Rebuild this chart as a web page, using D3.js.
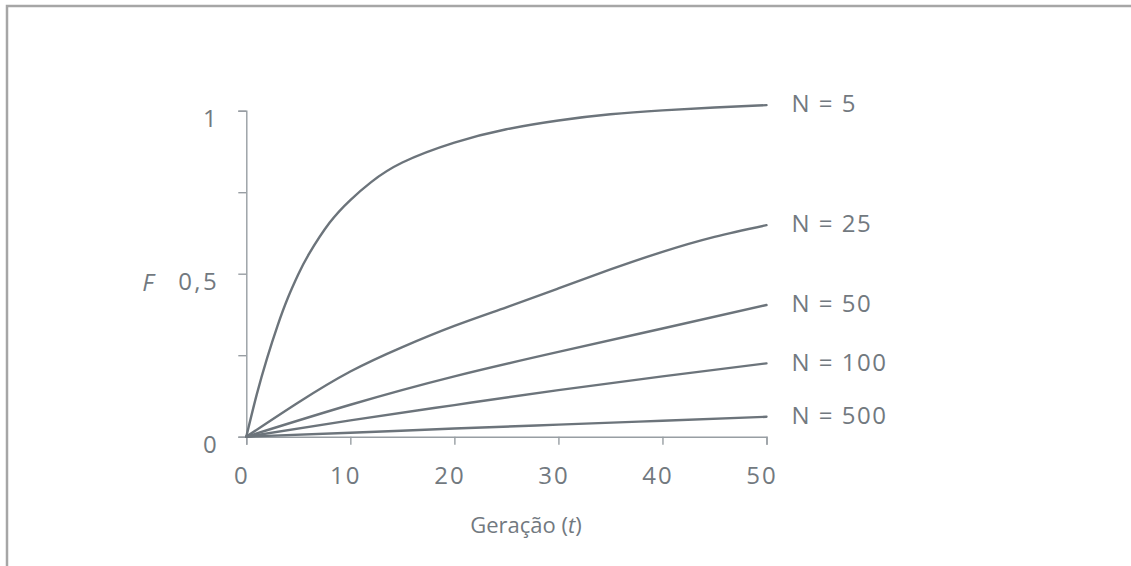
<!DOCTYPE html>
<html>
<head>
<meta charset="utf-8">
<script src="https://cdn.jsdelivr.net/npm/d3@7"></script>
<style>
  html, body { margin: 0; padding: 0; background: #ffffff; }
  svg { display: block; }
  text { font-family: "Open Sans", "Lato", sans-serif; fill: #72797f; }
</style>
</head>
<body>
<svg id="chart" width="1131" height="566"></svg>
<script>
// ---- data ----
const generations = [0, 1, 2, 3, 4, 5, 6, 8, 10, 12, 15, 20, 25, 30, 35, 40, 45, 50];
const seriesN5   = [0, 0.129, 0.241, 0.34, 0.426, 0.498, 0.559, 0.656, 0.726, 0.781, 0.841, 0.902, 0.943, 0.97, 0.989, 1.001, 1.01, 1.017];
const genCoarse  = [0, 5, 10, 15, 20, 25, 30, 35, 40, 45, 50];
const seriesN25  = [0, 0.105, 0.20, 0.275, 0.34, 0.397, 0.455, 0.513, 0.567, 0.613, 0.649];
const genLinear  = [0, 10, 20, 30, 40, 50];
const seriesN50  = [0, 0.098, 0.185, 0.26, 0.332, 0.404];
const seriesN100 = [0, 0.05, 0.097, 0.143, 0.185, 0.225];
const seriesN500 = [0, 0.012, 0.025, 0.037, 0.049, 0.061];
const seriesLabels = ["N = 5", "N = 25", "N = 50", "N = 100", "N = 500"];
const xTicks = [0, 10, 20, 30, 40, 50];
const yTicks = [0, 0.25, 0.5, 0.75, 1];
const yTickLabels = { 0: "0", 0.5: "0,5", 1: "1" };

const series = [
  { label: seriesLabels[0], t: generations, f: seriesN5 },
  { label: seriesLabels[1], t: genCoarse, f: seriesN25 },
  { label: seriesLabels[2], t: genLinear, f: seriesN50 },
  { label: seriesLabels[3], t: genLinear, f: seriesN100 },
  { label: seriesLabels[4], t: genLinear, f: seriesN500 }
];

// ---- layout ----
const svg = d3.select("#chart");
const x = d3.scaleLinear().domain([0, 50]).range([246.3, 766.5]);
const y = d3.scaleLinear().domain([0, 1]).range([436.7, 110.7]);

const axisColor = "#989ea3";
const lineColor = "#6c747b";

// frame (left + top border)
svg.append("path")
  .attr("d", "M7,566V6H1131")
  .attr("fill", "none")
  .attr("stroke", "#a6a6a6")
  .attr("stroke-width", 2.5);

// y axis
const gy = svg.append("g")
  .attr("transform", `translate(${x(0)},0)`)
  .call(d3.axisLeft(y).tickValues(yTicks).tickSize(8).tickPadding(19)
        .tickFormat(d => yTickLabels[d] !== undefined ? yTickLabels[d] : ""));
gy.selectAll("path, line").attr("stroke", axisColor).attr("stroke-width", 1.4);
gy.selectAll("text")
  .attr("font-size", 24)
  .attr("font-family", "Open Sans, sans-serif")
  .attr("fill", "#72797f")
  .attr("letter-spacing", 2.5)
  .attr("dy", "0.32em")
  .attr("transform", "translate(0,8)");

// x axis
const gx = svg.append("g")
  .attr("transform", `translate(0,${y(0)})`)
  .call(d3.axisBottom(x).tickValues(xTicks).tickSize(8).tickPadding(22).tickFormat(d3.format("d")));
gx.selectAll("path, line").attr("stroke", axisColor).attr("stroke-width", 1.4);
gx.selectAll("text")
  .attr("font-size", 24)
  .attr("font-family", "Open Sans, sans-serif")
  .attr("fill", "#72797f")
  .attr("letter-spacing", 2)
  .attr("transform", "translate(-5,0)");

// curves
const line = d3.line()
  .x(d => x(d[0]))
  .y(d => y(d[1]))
  .curve(d3.curveNatural);

svg.append("g").selectAll("path")
  .data(series)
  .join("path")
  .attr("d", s => line(s.t.map((t, i) => [t, s.f[i]])))
  .attr("fill", "none")
  .attr("stroke", lineColor)
  .attr("stroke-width", 2.4)
  .attr("stroke-linecap", "round");

// series labels
svg.append("g").selectAll("text")
  .data(series)
  .join("text")
  .attr("x", s => x(s.t[s.t.length - 1]) + 25)
  .attr("y", s => y(s.f[s.f.length - 1]))
  .attr("dy", "0.3em")
  .attr("font-size", 24)
  .attr("letter-spacing", 1.5)
  .text(s => s.label);

// axis titles
svg.append("text")
  .attr("x", 148)
  .attr("y", 291)
  .attr("text-anchor", "middle")
  .attr("font-size", 24)
  .attr("font-style", "italic")
  .text("F");

const xt = svg.append("text")
  .attr("x", 526)
  .attr("y", 533)
  .attr("text-anchor", "middle")
  .attr("font-size", 22);
xt.append("tspan").text("Geração (");
xt.append("tspan").attr("font-style", "italic").text("t");
xt.append("tspan").text(")");
</script>
</body>
</html>
